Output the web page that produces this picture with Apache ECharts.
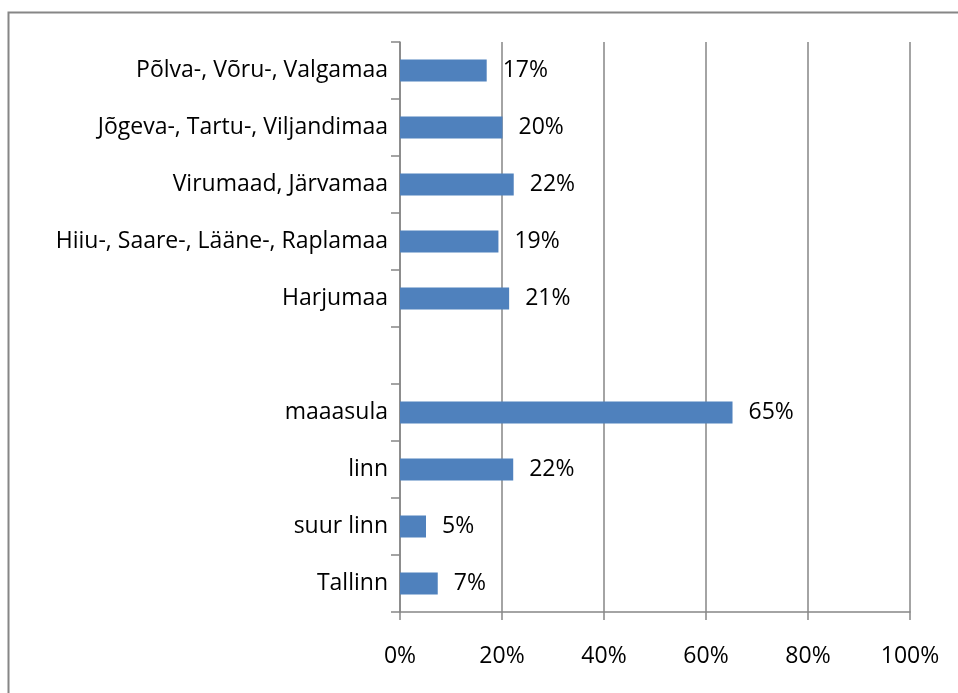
<!DOCTYPE html>
<html>
<head>
<meta charset="utf-8">
<script src="https://cdn.jsdelivr.net/npm/echarts@6/dist/echarts.min.js"></script>
<style>
  html, body { margin: 0; padding: 0; background: #ffffff; }
  #main { width: 958px; height: 693px; }
</style>
</head>
<body>
<div id="main"></div>
<script>
  // categories, bottom to top (empty one is the gap between groups)
  var categories = ['Tallinn', 'suur linn', 'linn', 'maaasula', '',
    'Harjumaa', 'Hiiu-, Saare-, Lääne-, Raplamaa', 'Virumaad, Järvamaa',
    'Jõgeva-, Tartu-, Viljandimaa', 'Põlva-, Võru-, Valgamaa'];
  var values = [7.4, 5.1, 22.2, 65.2, null, 21.4, 19.3, 22.3, 20.1, 17.0];
  var xTicks = [0, 20, 40, 60, 80, 100];

  var FONT = '"Open Sans", sans-serif';
  var grey = '#868686';

  var myChart = echarts.init(document.getElementById('main'));
  var option = {
    backgroundColor: '#ffffff',
    animation: false,
    graphic: [{
      type: 'rect',
      shape: { x: 8.5, y: 12.5, width: 1000, height: 1000 },
      style: { fill: 'none', stroke: grey, lineWidth: 2 },
      silent: true
    }],
    grid: { left: 400, right: 48, top: 42, bottom: 81 },
    xAxis: {
      type: 'value',
      min: xTicks[0],
      max: xTicks[xTicks.length - 1],
      interval: 20,
      axisLine: { show: true, lineStyle: { color: grey, width: 1.5 } },
      axisTick: { show: true, length: 8, lineStyle: { color: grey, width: 1.5 } },
      splitLine: { show: true, lineStyle: { color: grey, width: 1.5 } },
      axisLabel: {
        formatter: '{value}%', margin: 33,
        color: '#000', fontFamily: FONT, fontSize: 23
      }
    },
    yAxis: {
      type: 'category',
      data: categories,
      axisLine: { show: true, lineStyle: { color: grey, width: 1.5 } },
      axisTick: { show: true, length: 9, lineStyle: { color: grey, width: 1.5 } },
      axisLabel: { margin: 12, color: '#000', fontFamily: FONT, fontSize: 23, padding: [4, 0, 0, 0] }
    },
    series: [{
      type: 'bar',
      data: values,
      barWidth: 22,
      itemStyle: { color: '#4f81bd' },
      label: {
        show: true,
        position: 'right',
        distance: 16,
        color: '#000',
        fontFamily: FONT,
        fontSize: 23,
        padding: [4, 0, 0, 0],
        formatter: function (p) { return Math.round(p.value) + '%'; }
      }
    }]
  };
  myChart.setOption(option);
</script>
</body>
</html>
